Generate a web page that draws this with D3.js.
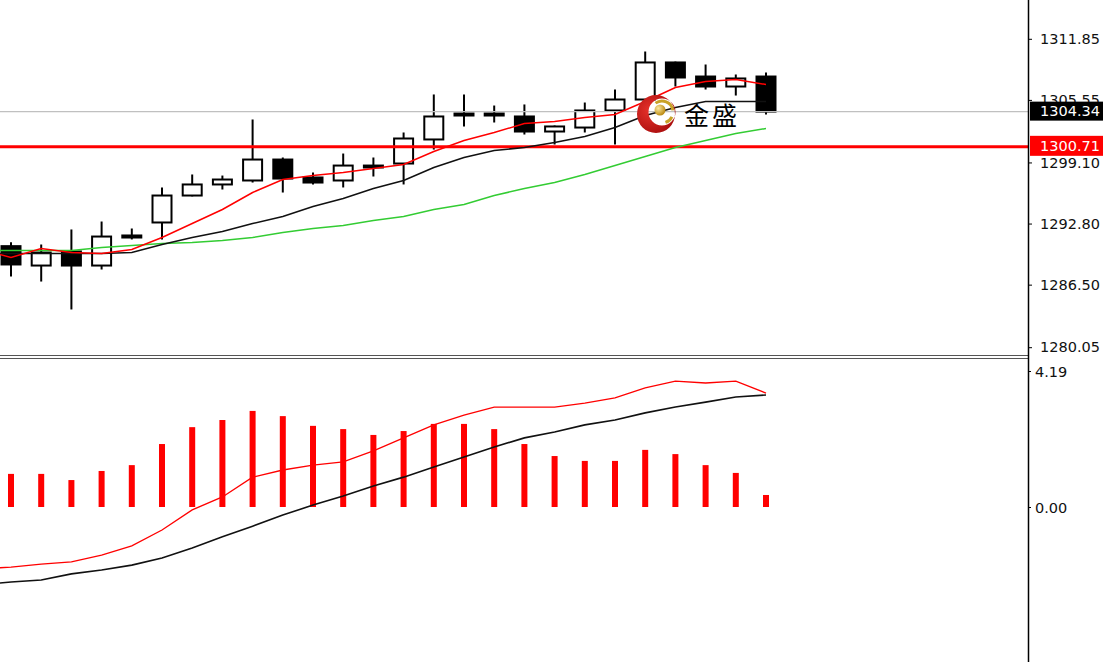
<!DOCTYPE html>
<html><head><meta charset="utf-8">
<script src="https://cdn.jsdelivr.net/npm/d3@7/dist/d3.min.js"></script>
<style>body{margin:0;background:#fff;overflow:hidden}svg{display:block}</style>
</head><body><svg id="c" width="1107" height="662"></svg>
<script>
// ---------- data ----------
const barIndex = d3.range(0, 26);
const opens  = [1290.47,1288.47,1289.92,1288.47,1291.57,1292.91,1295.69,1296.83,1297.24,1299.40,1297.55,1297.24,1298.78,1298.99,1301.47,1304.15,1304.15,1303.84,1302.29,1302.70,1304.46,1305.59,1309.41,1307.96,1306.93,1307.96];
const highs  = [1290.88,1290.64,1292.19,1293.01,1292.29,1296.52,1297.86,1297.75,1303.53,1299.61,1298.06,1300.02,1299.61,1302.19,1306.11,1306.11,1304.97,1305.08,1302.91,1305.28,1306.62,1310.54,1309.50,1309.20,1308.17,1308.38];
const lows   = [1287.34,1286.82,1283.94,1288.06,1291.16,1291.16,1295.60,1296.31,1297.03,1296.00,1296.83,1296.52,1297.65,1296.83,1300.43,1302.81,1303.22,1301.98,1300.95,1302.19,1300.95,1305.49,1306.93,1306.62,1306.00,1304.04];
const closes = [1288.58,1289.81,1288.47,1291.46,1291.36,1295.69,1296.83,1297.34,1299.40,1297.44,1297.03,1298.78,1298.58,1301.57,1303.84,1303.94,1303.94,1302.29,1302.81,1304.46,1305.59,1309.41,1307.86,1306.93,1307.76,1304.34];

// moving averages start one bar before the first visible candle
const maIndex = d3.range(-1, 26);
const maFast = [1290.12,1289.30,1290.23,1289.81,1289.71,1290.12,1291.36,1292.80,1294.25,1296.00,1297.34,1297.75,1298.06,1298.47,1298.89,1300.23,1301.36,1302.19,1303.11,1303.32,1303.73,1304.04,1305.38,1306.83,1307.45,1307.65,1307.14];
const maMid  = [1289.71,1289.71,1289.71,1289.71,1289.71,1289.81,1290.64,1291.36,1291.98,1292.80,1293.53,1294.56,1295.38,1296.41,1297.24,1298.58,1299.61,1300.33,1300.64,1301.16,1301.77,1302.70,1303.94,1304.76,1305.38,1305.38,1305.38];
const maSlow = [1290.02,1290.02,1290.02,1290.02,1290.33,1290.53,1290.74,1290.84,1291.05,1291.36,1291.88,1292.29,1292.60,1293.11,1293.53,1294.25,1294.76,1295.69,1296.41,1297.03,1297.86,1298.78,1299.71,1300.64,1301.36,1302.08,1302.60];

const histValues = [1.02,1.02,0.83,1.11,1.29,1.94,2.46,2.68,2.96,2.80,2.50,2.40,2.22,2.34,2.56,2.56,2.40,1.94,1.57,1.42,1.42,1.76,1.63,1.29,1.05,0.37];
const oscRed   = [-1.91,-1.85,-1.76,-1.69,-1.48,-1.20,-0.71,-0.09,0.31,0.92,1.14,1.29,1.39,1.73,2.13,2.53,2.83,3.08,3.08,3.08,3.20,3.36,3.67,3.88,3.82,3.88,3.51];
const oscBlack = [-2.40,-2.31,-2.25,-2.06,-1.94,-1.79,-1.57,-1.26,-0.92,-0.59,-0.25,0.06,0.34,0.65,0.92,1.23,1.54,1.85,2.13,2.31,2.53,2.68,2.90,3.08,3.23,3.39,3.45];

const priceTicks = [1311.85, 1305.55, 1299.10, 1292.80, 1286.50, 1280.05];
const oscTicks = [4.19, 0.00];
const bidPrice = 1304.34;
const levelPrice = 1300.71;
const logoText = "金盛";

// ---------- layout ----------
const W = 1107, H = 662;
const axisX = 1028;
const mainTop = 0, mainBottom = 355;
const subTop = 359, subBottom = 662;
const FONT = "'DejaVu Sans', Verdana, sans-serif";

const svg = d3.select("#c");
const x = d3.scaleLinear().domain([0, 25]).range([11, 766]);
const yP = d3.scaleLinear().domain([1280.05, 1311.85]).range([347.2, 38.8]);
const yO = d3.scaleLinear().domain([0, 4.19]).range([507, 371]);

const defs = svg.append("defs");
defs.append("clipPath").attr("id","clipMain").append("rect").attr("x",0).attr("y",mainTop).attr("width",axisX).attr("height",mainBottom-mainTop);
defs.append("clipPath").attr("id","clipSub").append("rect").attr("x",0).attr("y",subTop).attr("width",axisX).attr("height",subBottom-subTop);

// ---------- main panel ----------
const gMain = svg.append("g").attr("clip-path","url(#clipMain)");

// candles
const candles = gMain.append("g").selectAll("g").data(barIndex).join("g");
candles.append("line")
  .attr("x1", i => x(i)).attr("x2", i => x(i))
  .attr("y1", i => yP(highs[i])).attr("y2", i => yP(lows[i]))
  .attr("stroke", "#000").attr("stroke-width", 2);
candles.append("rect")
  .attr("x", i => x(i) - 9.5).attr("width", 19)
  .attr("y", i => yP(Math.max(opens[i], closes[i])))
  .attr("height", i => Math.max(1, Math.abs(yP(opens[i]) - yP(closes[i]))))
  .attr("fill", i => closes[i] >= opens[i] ? "#fff" : "#000")
  .attr("stroke", "#000").attr("stroke-width", 2);

// horizontal level lines
gMain.append("line").attr("x1",0).attr("x2",axisX).attr("y1",yP(bidPrice)).attr("y2",yP(bidPrice))
  .attr("stroke","#c0c0c0").attr("stroke-width",1.2);
gMain.append("line").attr("x1",0).attr("x2",axisX).attr("y1",yP(levelPrice)).attr("y2",yP(levelPrice))
  .attr("stroke","#ff0000").attr("stroke-width",3);

// moving averages
const maLine = arr => d3.line().x((d,k) => x(maIndex[k])).y(d => yP(d))(arr);
gMain.append("path").attr("d", maLine(maSlow)).attr("fill","none").attr("stroke","#33cc33").attr("stroke-width",1.5);
gMain.append("path").attr("d", maLine(maMid)).attr("fill","none").attr("stroke","#111").attr("stroke-width",1.6);
gMain.append("path").attr("d", maLine(maFast)).attr("fill","none").attr("stroke","#ff0000").attr("stroke-width",1.5);

// ---------- sub panel ----------
const gSub = svg.append("g").attr("clip-path","url(#clipSub)");
gSub.append("g").selectAll("rect").data(barIndex).join("rect")
  .attr("x", i => x(i) - 3).attr("width", 6)
  .attr("y", i => yO(histValues[i])).attr("height", i => yO(0) - yO(histValues[i]))
  .attr("fill", "#ff0000");
const oscLine = arr => d3.line().x((d,k) => x(maIndex[k])).y(d => yO(d))(arr);
gSub.append("path").attr("d", oscLine(oscBlack)).attr("fill","none").attr("stroke","#111").attr("stroke-width",1.6);
gSub.append("path").attr("d", oscLine(oscRed)).attr("fill","none").attr("stroke","#ff0000").attr("stroke-width",1.3);

// ---------- separators & axes ----------
svg.append("line").attr("x1",0).attr("x2",axisX).attr("y1",355.5).attr("y2",355.5).attr("stroke","#555").attr("stroke-width",1.2);
svg.append("line").attr("x1",0).attr("x2",axisX).attr("y1",358.5).attr("y2",358.5).attr("stroke","#555").attr("stroke-width",1.2);
svg.append("line").attr("x1",axisX+0.5).attr("x2",axisX+0.5).attr("y1",0).attr("y2",H).attr("stroke","#000").attr("stroke-width",1.5);

const axP = svg.append("g").attr("transform",`translate(${axisX},0)`)
  .call(d3.axisRight(yP).tickValues(priceTicks).tickFormat(d3.format(".2f")).tickSize(4).tickPadding(8));
axP.select(".domain").remove();
axP.selectAll("text").attr("font-family",FONT).attr("font-size","14.5px").attr("fill","#111");
axP.selectAll("line").attr("stroke","#000");

const axO = svg.append("g").attr("transform",`translate(${axisX},0)`)
  .call(d3.axisRight(yO).tickValues(oscTicks).tickFormat(d3.format(".2f")).tickSize(3).tickPadding(4));
axO.select(".domain").remove();
axO.selectAll("text").attr("font-family",FONT).attr("font-size","14.5px").attr("fill","#111").attr("dy","0.4em");
axO.selectAll("line").attr("stroke","#000");

// price boxes
function priceBox(val, bg, y0, h) {
  const g = svg.append("g");
  g.append("rect").attr("x",1030).attr("y",y0).attr("width",73).attr("height",h).attr("fill",bg);
  g.append("text").attr("x",1040).attr("y",y0 + h/2).attr("dy","0.36em")
    .attr("font-family",FONT).attr("font-size","14.5px").attr("fill","#fff").text(d3.format(".2f")(val));
}
priceBox(bidPrice, "#000", yP(bidPrice) - 10, 19);
priceBox(levelPrice, "#ff0000", yP(levelPrice) - 11, 20);

// ---------- logo ----------
const lg = svg.append("g");
const rg = defs.append("radialGradient").attr("id","redG").attr("cx","35%").attr("cy","40%").attr("r","70%");
rg.append("stop").attr("offset","0%").attr("stop-color","#e8322b");
rg.append("stop").attr("offset","100%").attr("stop-color","#a80d0d");
const gg = defs.append("radialGradient").attr("id","goldG").attr("cx","35%").attr("cy","35%").attr("r","70%");
gg.append("stop").attr("offset","0%").attr("stop-color","#fbe8a0");
gg.append("stop").attr("offset","100%").attr("stop-color","#b8860b");
const cp = d3.path();
cp.moveTo(656+19,114); cp.arc(656,114,19,0,2*Math.PI);
cp.moveTo(662+13.5,112); cp.arc(662,112,13.5,0,2*Math.PI);
lg.append("path").attr("d",cp.toString()).attr("fill","url(#redG)").attr("fill-rule","evenodd");
const a1 = d3.path(); a1.arc(662,112,11,-2.2,-0.15);
lg.append("path").attr("d",a1.toString()).attr("fill","none").attr("stroke","#c9a227").attr("stroke-width",3);
const a2 = d3.path(); a2.arc(662,112,11,0.45,1.25);
lg.append("path").attr("d",a2.toString()).attr("fill","none").attr("stroke","#c9a227").attr("stroke-width",3);
lg.append("circle").attr("cx",660).attr("cy",110).attr("r",5.5).attr("fill","url(#goldG)");
lg.append("text").attr("x",684).attr("y",125).attr("font-family","'Noto Sans CJK SC', sans-serif")
  .attr("font-size","25px").attr("letter-spacing","3px").attr("fill","#000").text(logoText);
</script></body></html>
